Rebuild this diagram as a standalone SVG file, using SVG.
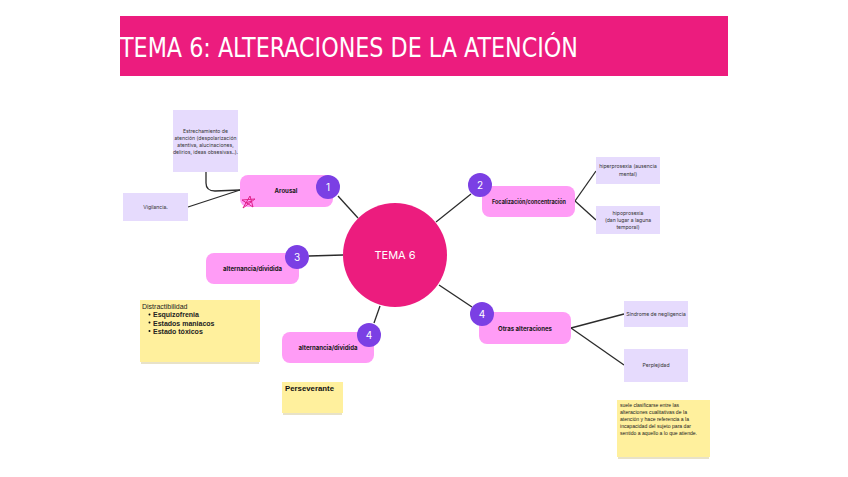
<svg xmlns="http://www.w3.org/2000/svg" width="848" height="477" viewBox="0 0 848 477">
<defs>
<style>
.pill{fill:#FF9CF6}
.badge{fill:#7B3FE4}
.bnum{font-family:"Inter","Liberation Sans",sans-serif;font-size:10px;fill:#fff;text-anchor:middle}
.plabel{font-family:"Inter","Liberation Sans",sans-serif;font-size:6.6px;font-weight:bold;fill:#1a1a1a;text-anchor:middle}
.lav{fill:#E6DBFD}
.ltxt{font-family:"Inter","Liberation Sans",sans-serif;font-size:5.1px;fill:#333;text-anchor:middle}
.sticky{fill:#FFF09D}
.shadow{fill:#E8E2C8}
.stxt{font-family:"Liberation Sans",Arial,sans-serif;font-size:7px;fill:#222}
.ntxt{font-family:"Liberation Sans",Arial,sans-serif;font-size:6px;fill:#222}
.conn{stroke:#2b2b2b;stroke-width:1.3;fill:none}
</style>
</defs>
<rect width="848" height="477" fill="#fff"/>
<g id="title">
<rect x="120" y="16" width="608" height="60" fill="#EC1C7E"/>
<text x="120" y="57" font-family="'DejaVu Sans Condensed','Liberation Sans',sans-serif" font-size="27" fill="#fff" textLength="458" lengthAdjust="spacingAndGlyphs">TEMA 6: ALTERACIONES DE LA ATENCIÓN</text>
</g>
<g id="connectors">
<path class="conn" d="M338,196 L358,218"/>
<path class="conn" d="M206,172 L206,183 Q206,191 215,191 L240,190"/>
<path class="conn" d="M188,207 L240,190"/>
<path class="conn" d="M436,222 L471,194"/>
<path class="conn" d="M575,201 L596,171"/>
<path class="conn" d="M575,201 L596,220"/>
<path class="conn" d="M309,256 L343,255"/>
<path class="conn" d="M380,306 L374,323"/>
<path class="conn" d="M439,285 L472,307"/>
<path class="conn" d="M571,328 L624,314"/>
<path class="conn" d="M571,328 L624,365"/>
</g>
<g id="center">
<circle cx="395" cy="255" r="52" fill="#EC1C7E"/>
<text x="395" y="259" font-family="'Inter','Liberation Sans',sans-serif" font-size="11" fill="#fff" text-anchor="middle">TEMA 6</text>
</g>
<g id="arousal">
<rect class="pill" x="240" y="175" width="93" height="32" rx="8"/>
<text class="plabel" x="286" y="193" textLength="23" lengthAdjust="spacingAndGlyphs">Arousal</text>
<path d="M243,208 L250,196 L253,207 L242,200 L255,199 Z M245,203 L252,201" stroke="#E0208A" stroke-width="1" fill="none"/>
<circle class="badge" cx="328" cy="187" r="12"/>
<text class="bnum" x="328" y="191">1</text>
</g>
<g id="estrechamiento">
<rect class="lav" x="173" y="110" width="65" height="62"/>
<text class="ltxt" x="205.5" y="133">Estrechamiento de</text>
<text class="ltxt" x="205.5" y="140">atención (despolarización</text>
<text class="ltxt" x="205.5" y="147">atentiva, alucinaciones,</text>
<text class="ltxt" x="205.5" y="154">delirios, ideas obsesivas..).</text>
</g>
<g id="vigilancia">
<rect class="lav" x="123" y="193" width="65" height="28"/>
<text class="ltxt" x="155.5" y="209">Vigilancia.</text>
</g>
<g id="focalizacion">
<rect class="pill" x="482" y="186" width="93" height="31" rx="8"/>
<text class="plabel" x="529" y="204" textLength="74" lengthAdjust="spacingAndGlyphs">Focalización/concentración</text>
<circle class="badge" cx="480" cy="185" r="12"/>
<text class="bnum" x="480" y="189">2</text>
</g>
<g id="hiperprosexia">
<rect class="lav" x="596" y="157" width="64" height="27"/>
<text class="ltxt" x="628" y="168">hiperprosexia (ausencia</text>
<text class="ltxt" x="628" y="176">mental)</text>
</g>
<g id="hipoprosexia">
<rect class="lav" x="596" y="206" width="64" height="28"/>
<text class="ltxt" x="628" y="215">hipoprosexia</text>
<text class="ltxt" x="628" y="222">(dan lugar a laguna</text>
<text class="ltxt" x="628" y="229">temporal)</text>
</g>
<g id="alternancia3">
<rect class="pill" x="206" y="253" width="93" height="31" rx="8"/>
<text class="plabel" x="252.5" y="271" textLength="59" lengthAdjust="spacingAndGlyphs">alternancia/dividida</text>
<circle class="badge" cx="297" cy="257" r="12"/>
<text class="bnum" x="297" y="261">3</text>
</g>
<g id="distractibilidad">
<rect class="shadow" x="141" y="361" width="118" height="3"/>
<rect class="sticky" x="140" y="300" width="120" height="62"/>
<text class="stxt" x="142" y="308.5">Distractibilidad</text>
<circle cx="149.5" cy="314.5" r="1" fill="#111"/>
<circle cx="149.5" cy="322.5" r="1" fill="#111"/>
<circle cx="149.5" cy="331" r="1" fill="#111"/>
<text class="stxt" x="153" y="317" font-weight="bold" fill="#111">Esquizofrenia</text>
<text class="stxt" x="153" y="325.5" font-weight="bold" fill="#111">Estados maniacos</text>
<text class="stxt" x="153" y="334" font-weight="bold" fill="#111">Estado tóxicos</text>
</g>
<g id="alternancia4">
<rect class="pill" x="282" y="332" width="92" height="31" rx="8"/>
<text class="plabel" x="328" y="350" textLength="59" lengthAdjust="spacingAndGlyphs">alternancia/dividida</text>
<circle class="badge" cx="369" cy="335" r="12"/>
<text class="bnum" x="369" y="339">4</text>
</g>
<g id="perseverante">
<rect class="shadow" x="283" y="412" width="59" height="3"/>
<rect class="sticky" x="282" y="382" width="61" height="31"/>
<text x="285" y="391" font-family="'Liberation Sans',Arial,sans-serif" font-size="7.8" font-weight="bold" fill="#111">Perseverante</text>
</g>
<g id="otras">
<rect class="pill" x="479" y="312" width="92" height="32" rx="8"/>
<text class="plabel" x="525" y="331" textLength="54" lengthAdjust="spacingAndGlyphs">Otras alteraciones</text>
<circle class="badge" cx="482" cy="314" r="12"/>
<text class="bnum" x="482" y="318">4</text>
</g>
<g id="negligencia">
<rect class="lav" x="624" y="301" width="64" height="26"/>
<text class="ltxt" x="656" y="316">Síndrome de negligencia</text>
</g>
<g id="perplejidad">
<rect class="lav" x="624" y="349" width="64" height="33"/>
<text class="ltxt" x="656" y="367">Perplejidad</text>
</g>
<g id="nota">
<rect class="shadow" x="618" y="456" width="91" height="3"/>
<rect class="sticky" x="617" y="400" width="93" height="57"/>
<text class="ntxt" x="620" y="407" textLength="59" lengthAdjust="spacingAndGlyphs">suele clasificarse entre las</text>
<text class="ntxt" x="620" y="414" textLength="67" lengthAdjust="spacingAndGlyphs">alteraciones cualitativas de la</text>
<text class="ntxt" x="620" y="421" textLength="69" lengthAdjust="spacingAndGlyphs">atención y hace referencia a la</text>
<text class="ntxt" x="620" y="428" textLength="71" lengthAdjust="spacingAndGlyphs">incapacidad del sujeto para dar</text>
<text class="ntxt" x="620" y="435" textLength="77" lengthAdjust="spacingAndGlyphs">sentido a aquello a lo que atiende.</text>
</g>
</svg>
